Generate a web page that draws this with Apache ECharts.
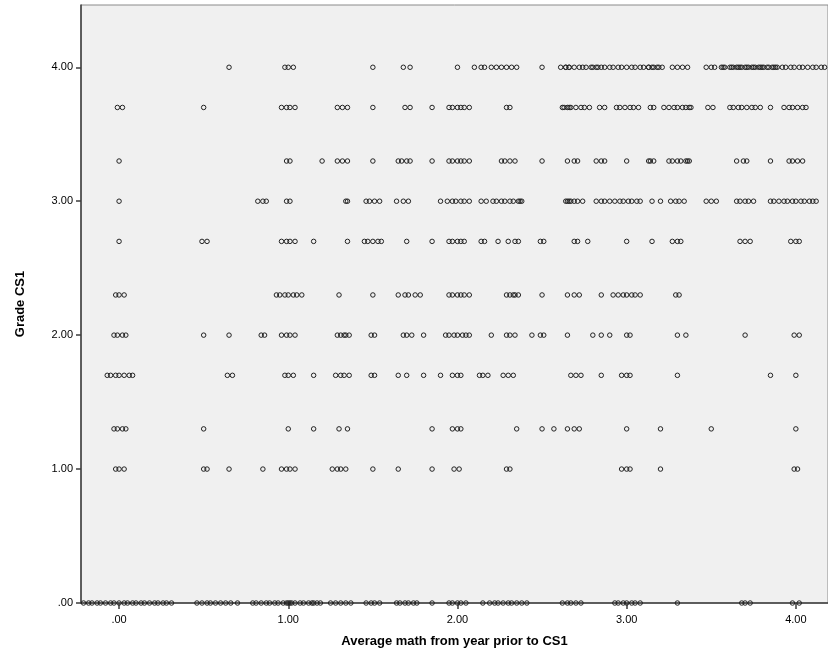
<!DOCTYPE html>
<html>
<head>
<meta charset="utf-8">
<script src="https://cdn.jsdelivr.net/npm/echarts@6/dist/echarts.min.js"></script>
<style>html,body{margin:0;padding:0;background:#fff}#c{width:828px;height:667px}</style>
</head>
<body>
<div id="c"></div>
<script>
// x values (Average math from year prior to CS1) for each CS1 grade level
const g400 = [0.65,0.98,1.00,1.03,1.50,1.68,1.72,2.00,2.10,2.14,2.16,2.20,2.23,2.26,2.29,2.32,2.35,2.50,
  2.61,2.64,2.64,2.66,2.66,2.69,2.72,2.74,2.76,
  2.79,2.80,2.82,2.83,2.85,2.87,2.90,2.92,2.95,2.97,3.00,3.03,3.05,3.08,3.10,3.13,3.13,3.15,3.16,3.18,3.19,3.21,
  3.27,3.30,3.33,3.36,3.47,3.50,3.52,
  3.56,3.57,3.58,3.61,3.62,3.63,3.65,3.66,3.67,3.68,3.70,3.71,3.72,3.74,3.75,3.76,3.78,3.79,3.80,3.81,3.83,3.84,3.86,3.87,3.88,3.89,3.92,3.94,3.97,3.99,4.02,4.04,4.07,4.10,4.12,4.15,4.17];
const g370 = [-0.01,0.02,0.50,0.96,0.99,1.01,1.04,1.29,1.32,1.35,1.50,1.69,1.72,1.85,1.95,1.97,2.00,2.02,2.04,2.07,
  2.29,2.31,2.62,2.63,2.65,2.66,2.67,2.70,2.73,2.75,2.78,2.84,2.87,2.94,2.96,2.99,3.02,3.04,3.07,3.14,3.16,
  3.22,3.25,3.28,3.30,3.33,3.35,3.37,3.38,3.48,3.51,3.61,3.63,3.66,3.68,3.71,3.74,3.76,3.79,3.85,
  3.93,3.96,3.98,4.01,4.04,4.06];
const g330 = [0.00,0.99,1.01,1.20,1.29,1.32,1.35,1.50,1.65,1.67,1.70,1.72,1.85,1.95,1.97,2.00,2.02,2.04,2.07,
  2.26,2.28,2.31,2.34,2.50,2.65,2.69,2.71,2.82,2.85,2.87,3.00,3.13,3.14,3.16,3.25,3.27,3.30,3.32,3.35,3.36,3.37,
  3.65,3.69,3.71,3.85,3.96,3.98,4.01,4.04];
const g300 = [0.00,0.82,0.85,0.87,0.99,1.01,1.34,1.35,1.46,1.48,1.51,1.54,1.64,1.68,1.71,1.90,1.94,1.97,1.99,2.02,2.04,2.07,
  2.14,2.17,2.21,2.23,2.26,2.28,2.31,2.33,2.36,2.37,2.38,2.64,2.65,2.66,2.67,2.69,2.71,2.74,
  2.82,2.85,2.87,2.90,2.93,2.96,2.98,3.01,3.03,3.06,3.08,3.15,3.20,3.26,3.29,3.31,3.34,3.47,3.50,3.53,
  3.65,3.67,3.70,3.72,3.75,3.85,3.87,3.90,3.93,3.95,3.98,4.00,4.03,4.05,4.08,4.10,4.12];
const g270 = [0.00,0.49,0.52,0.96,0.99,1.01,1.04,1.15,1.35,1.45,1.47,1.50,1.53,1.55,1.70,1.85,1.95,1.97,2.00,2.02,2.04,
  2.14,2.16,2.24,2.30,2.34,2.36,2.49,2.51,2.69,2.71,2.77,3.00,3.15,3.27,3.30,3.32,3.67,3.70,3.73,3.97,4.00,4.02];
const g230 = [-0.02,0.00,0.03,0.93,0.95,0.98,1.00,1.03,1.05,1.08,1.30,1.50,1.65,1.69,1.71,1.75,1.78,
  1.95,1.97,2.00,2.02,2.04,2.07,2.29,2.31,2.33,2.34,2.36,2.50,2.65,2.69,2.72,2.85,
  2.92,2.95,2.98,3.00,3.03,3.05,3.08,3.29,3.31];
const g200 = [-0.03,-0.01,0.02,0.04,0.50,0.65,0.84,0.86,0.96,0.99,1.01,1.04,1.29,1.31,1.33,1.34,1.36,1.49,1.51,
  1.68,1.70,1.73,1.80,1.93,1.95,1.98,2.00,2.03,2.05,2.07,2.20,2.29,2.31,2.34,2.44,2.49,2.51,2.65,
  2.80,2.85,2.90,3.00,3.02,3.30,3.35,3.70,3.99,4.02];
const g170 = [-0.07,-0.05,-0.02,0.00,0.03,0.06,0.08,0.64,0.67,0.98,1.00,1.03,1.15,1.28,1.31,1.33,1.36,1.49,1.51,
  1.65,1.70,1.80,1.90,1.97,2.00,2.02,2.13,2.15,2.18,2.27,2.30,2.33,2.67,2.70,2.73,2.85,2.97,3.00,3.02,3.30,3.85,4.00];
const g130 = [-0.03,-0.01,0.02,0.04,0.50,1.00,1.15,1.30,1.35,1.85,1.97,2.00,2.02,2.35,2.50,2.57,2.65,2.69,2.72,
  3.00,3.20,3.50,4.00];
const g100 = [-0.02,0.00,0.03,0.50,0.52,0.65,0.85,0.96,0.99,1.01,1.04,1.26,1.29,1.31,1.34,1.50,1.65,1.85,1.98,2.01,
  2.29,2.31,2.97,3.00,3.02,3.20,3.99,4.01];
const g000 = [-0.21,-0.18,-0.16,-0.13,-0.11,-0.08,-0.05,-0.03,0.00,0.03,0.05,0.08,0.10,0.13,0.15,0.18,0.21,0.23,0.26,0.28,0.31,
  0.46,0.49,0.52,0.54,0.57,0.60,0.63,0.66,0.70,
  0.79,0.81,0.84,0.87,0.89,0.92,0.94,0.97,0.99,1.00,1.01,1.02,1.04,1.07,1.09,1.12,1.14,1.15,1.17,1.19,
  1.25,1.28,1.31,1.34,1.37,1.46,1.49,1.51,1.54,1.64,1.66,1.69,1.71,1.74,1.76,1.85,
  1.95,1.97,2.00,2.02,2.05,2.15,2.19,2.22,2.24,2.27,2.30,2.32,2.35,2.38,2.41,
  2.62,2.65,2.67,2.70,2.73,2.93,2.95,2.98,3.00,3.03,3.05,3.08,3.30,3.68,3.70,3.73,3.98,4.02];

const gradeRows = [[4.0,g400],[3.7,g370],[3.3,g330],[3.0,g300],[2.7,g270],[2.3,g230],[2.0,g200],[1.7,g170],[1.3,g130],[1.0,g100],[0.0,g000]];
const xTicks = [0,1,2,3,4];
const yTicks = [0,1,2,3,4];

const data = [];
gradeRows.forEach(([g, xs]) => xs.forEach(x => data.push([x, g])));

const fmt = v => v === 0 ? '.00' : v.toFixed(2);
const font = '"Liberation Sans", Arial, sans-serif';

const chart = echarts.init(document.getElementById('c'), null, {renderer: 'canvas'});
chart.setOption({
  animation: false,
  backgroundColor: '#ffffff',
  grid: {left: 81, right: -3, top: 5, bottom: 64, show: true, backgroundColor: '#f0f0f0', borderColor: '#8a8a8a', borderWidth: 1, containLabel: false},
  xAxis: {
    type: 'value', min: -0.225, max: 4.19,
    name: 'Average math from year prior to CS1', nameLocation: 'middle', nameGap: 32,
    nameTextStyle: {fontFamily: font, fontSize: 13, fontWeight: 'bold', color: '#000'},
    axisLine: {show: true, onZero: false, lineStyle: {color: '#3c3c3c', width: 1.5}},
    axisTick: {show: true, length: 6, customValues: xTicks, lineStyle: {color: '#3c3c3c', width: 1.5}},
    axisLabel: {customValues: xTicks, formatter: fmt, fontFamily: font, fontSize: 11, color: '#000', margin: 11},
    splitLine: {show: false}
  },
  yAxis: {
    type: 'value', min: 0, max: 4.465,
    name: 'Grade CS1', nameLocation: 'middle', nameGap: 54, nameRotate: 90,
    nameTextStyle: {fontFamily: font, fontSize: 13, fontWeight: 'bold', color: '#000'},
    axisLine: {show: true, onZero: false, lineStyle: {color: '#3c3c3c', width: 1.5}},
    axisTick: {show: true, length: 5, customValues: yTicks, lineStyle: {color: '#3c3c3c', width: 1.5}},
    axisLabel: {customValues: yTicks, formatter: fmt, fontFamily: font, fontSize: 11, color: '#000', margin: 8},
    splitLine: {show: false}
  },
  series: [{
    type: 'scatter',
    data: data,
    symbol: 'circle',
    symbolSize: 4.5,
    clip: false,
    itemStyle: {color: 'rgba(0,0,0,0)', borderColor: '#222', borderWidth: 1, opacity: 1}
  }]
});
</script>
</body>
</html>
